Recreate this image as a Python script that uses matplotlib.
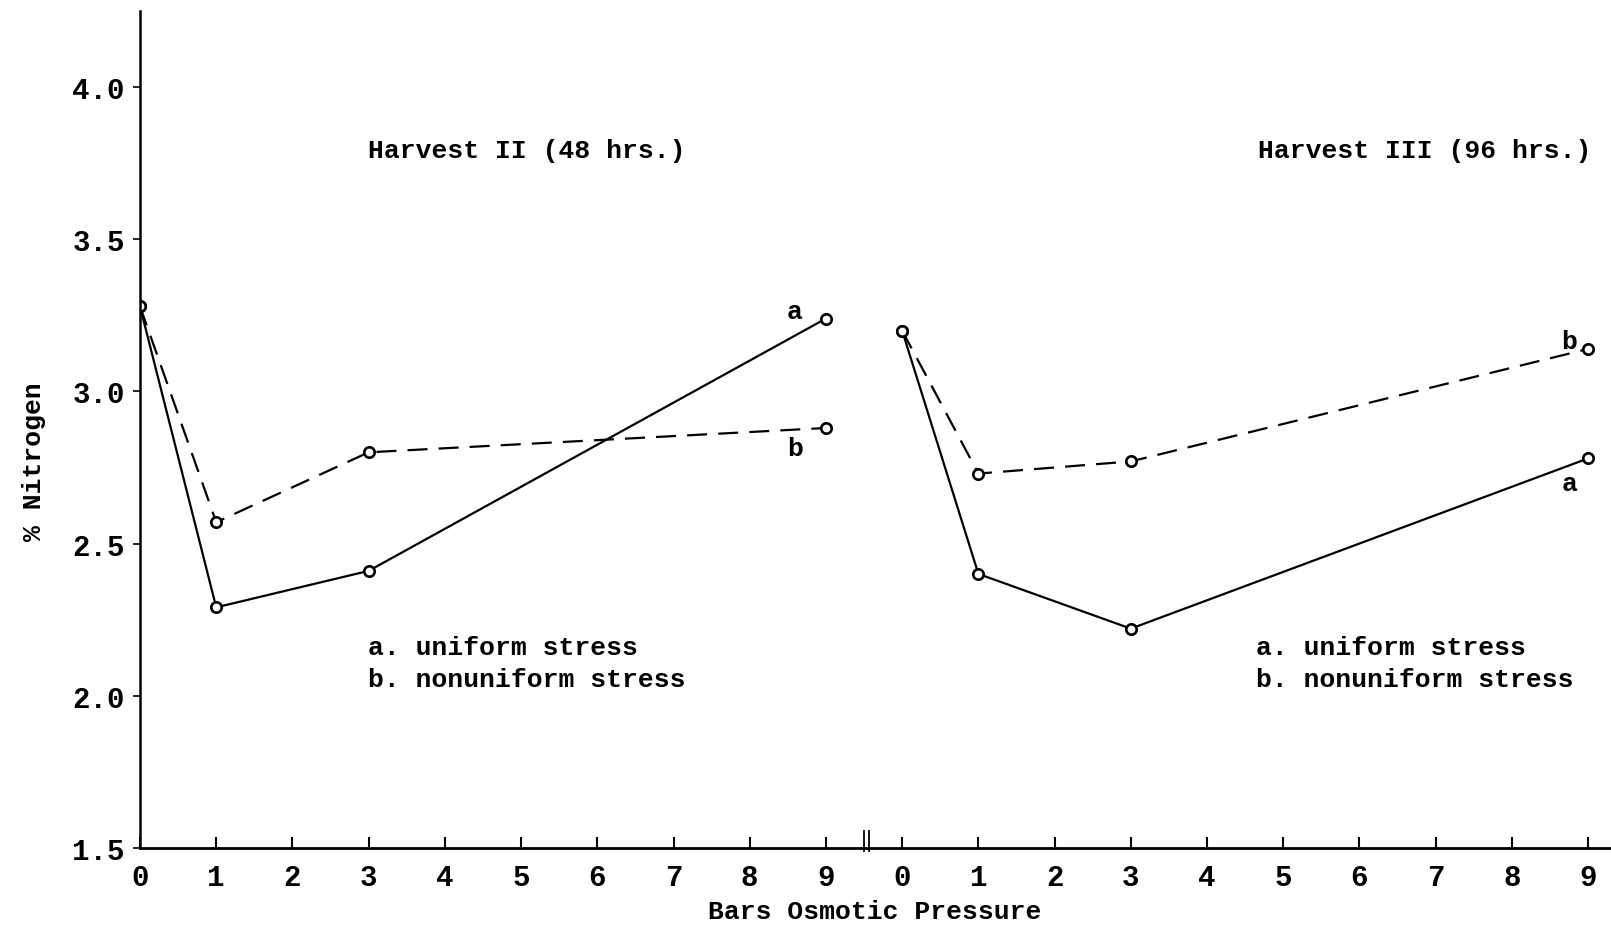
import numpy as np
import matplotlib
matplotlib.use('Agg')
import matplotlib.pyplot as plt
import matplotlib.transforms as mtransforms

# osmotic pressure (bars) at which samples were taken
pressure = [0, 1, 3, 9]

# % nitrogen, harvest II (48 hrs.)
h2_uniform = [3.28, 2.29, 2.41, 3.24]
h2_nonuniform = [3.28, 2.57, 2.80, 2.88]

# % nitrogen, harvest III (96 hrs.)
h3_uniform = [3.20, 2.40, 2.22, 2.78]
h3_nonuniform = [3.20, 2.73, 2.77, 3.14]

panel_titles = ['Harvest II (48 hrs.)', 'Harvest III (96 hrs.)']
legend_lines = ['a. uniform stress', 'b. nonuniform stress']
y_ticks = [1.5, 2.0, 2.5, 3.0, 3.5, 4.0]
x_tick_labels = [str(i) for i in range(10)]

OFFSET = 10  # second panel drawn on same axis, shifted right
FS = 19
TFS = 21

plt.rcParams['font.family'] = 'Liberation Mono'
plt.rcParams['font.weight'] = 'bold'

fig = plt.figure(figsize=(16.11, 9.29), dpi=100)
ax = fig.add_axes([0.0869, 0.0866, 1 - 0.0869, 0.900])

mk = dict(marker='o', markersize=7.5, markerfacecolor='white',
          markeredgecolor='black', markeredgewidth=1.9, color='black', lw=1.6)

x_left = np.array(pressure)
x_right = np.array(pressure) + OFFSET

ax.plot(x_left, h2_uniform, '-', **mk)
ax.plot(x_left, h2_nonuniform, '--', dashes=(9, 5), **mk)
ax.plot(x_right, h3_uniform, '-', **mk)
ax.plot(x_right, h3_nonuniform, '--', dashes=(9, 5), **mk)

ax.set_xlim(0, 19.3)
ax.set_ylim(1.5, 4.25)

for side in ['top', 'right']:
    ax.spines[side].set_visible(False)
ax.spines['left'].set_linewidth(1.8)
ax.spines['bottom'].set_linewidth(2)

xt = list(range(10)) + [i + OFFSET for i in range(10)]
ax.set_xticks(xt)
ax.set_xticklabels(x_tick_labels + x_tick_labels, fontsize=TFS)
ax.set_yticks(y_ticks)
ax.set_yticklabels(['%.1f' % v for v in y_ticks], fontsize=TFS)
ax.tick_params(axis='x', direction='in', length=8, width=1.5, pad=11)
ax.tick_params(axis='y', direction='out', length=5, width=1.2, pad=6)

# axis break mark
trans = mtransforms.blended_transform_factory(ax.transData, ax.transAxes)
for bx in (9.5, 9.56):
    ax.plot([bx, bx], [-0.004, 0.02], color='black', lw=1.3,
            transform=trans, clip_on=False)

# panel titles and keys
ax.text(2.99, 3.795, panel_titles[0], fontsize=FS, va='center', ha='left')
ax.text(14.67, 3.795, panel_titles[1], fontsize=FS, va='center', ha='left')
for x0 in (2.99, 14.64):
    ax.text(x0, 2.16, legend_lines[0], fontsize=FS, va='center', ha='left')
    ax.text(x0, 2.055, legend_lines[1], fontsize=FS, va='center', ha='left')

# curve letters
ax.text(8.59, 3.264, 'a', fontsize=FS, ha='center', va='center')
ax.text(8.59, 2.814, 'b', fontsize=FS, ha='center', va='center')
ax.text(18.75, 3.166, 'b', fontsize=FS, ha='center', va='center')
ax.text(18.75, 2.699, 'a', fontsize=FS, ha='center', va='center')

fig.text(0.021, 0.503, '% Nitrogen', rotation=90, fontsize=FS,
         ha='center', va='center')
fig.text(0.543, 0.018, 'Bars Osmotic Pressure', fontsize=FS,
         ha='center', va='center')

fig.savefig('out.png', dpi=100)
